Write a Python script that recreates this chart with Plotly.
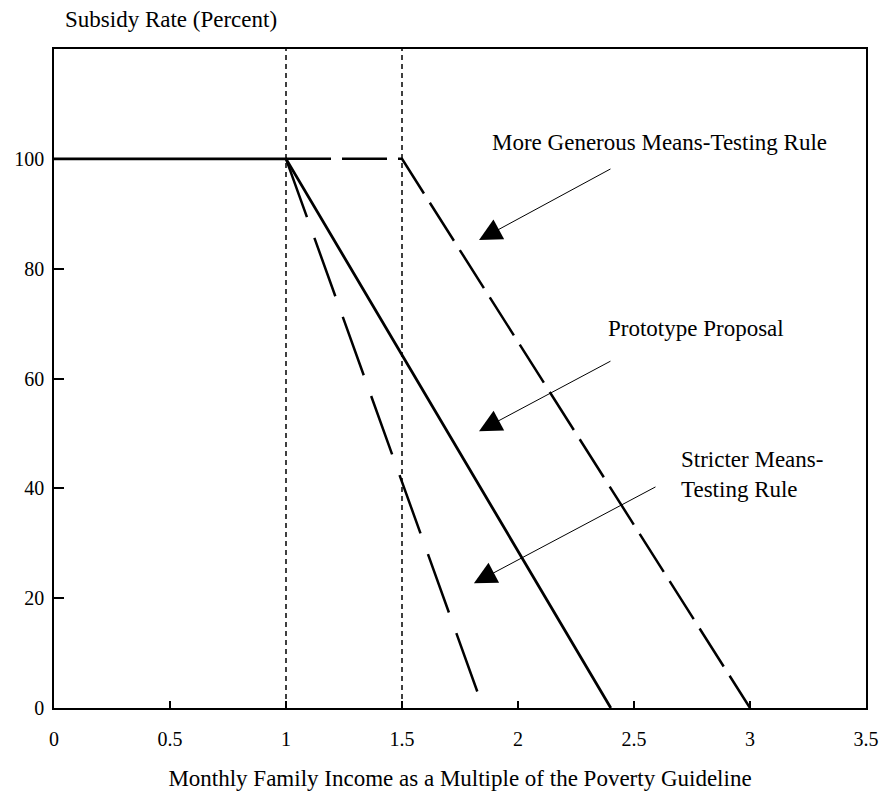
import plotly.graph_objects as go

# Data
proto_x = [0, 1, 2.4]
proto_y = [100, 100, 0]
generous_x = [1, 1.5, 3]
generous_y = [100, 100, 0]
stricter_x = [1, 1.85]
stricter_y = [100, 0]
ref_lines_x = [1, 1.5]
y_range = [0, 120]
x_ticks = [0, 0.5, 1, 1.5, 2, 2.5, 3, 3.5]
y_ticks = [0, 20, 40, 60, 80, 100]

FONT = "Liberation Serif"

fig = go.Figure()

for xv in ref_lines_x:
    fig.add_trace(go.Scatter(x=[xv, xv], y=y_range, mode="lines",
                             line=dict(color="black", width=1.5, dash="5px,4px"),
                             hoverinfo="skip", showlegend=False))

fig.add_trace(go.Scatter(x=generous_x, y=generous_y, mode="lines",
                         line=dict(color="black", width=2.5, dash="45px,11px"),
                         showlegend=False))
fig.add_trace(go.Scatter(x=stricter_x, y=stricter_y, mode="lines",
                         line=dict(color="black", width=2.5, dash="62px,22px"),
                         showlegend=False))
fig.add_trace(go.Scatter(x=proto_x, y=proto_y, mode="lines",
                         line=dict(color="black", width=2.8),
                         showlegend=False))

labels = [
    dict(text="More Generous Means-Testing Rule", tx=1.879, ty=103.0,
         ax=2.405, ay=98.3, hx=1.832, hy=85.2),
    dict(text="Prototype Proposal", tx=2.379, ty=69.1,
         ax=2.405, ay=63.3, hx=1.832, hy=50.4),
    dict(text="Stricter Means-<br>Testing Rule", tx=2.694, ty=42.5,
         ax=2.599, ay=40.4, hx=1.810, hy=22.7),
]
for lb in labels:
    fig.add_annotation(x=lb["tx"], y=lb["ty"], xref="x", yref="y", text=lb["text"],
                       showarrow=False, xanchor="left", yanchor="middle", align="left",
                       font=dict(family=FONT, size=23, color="black"))
    fig.add_annotation(x=lb["hx"], y=lb["hy"], ax=lb["ax"], ay=lb["ay"],
                       xref="x", yref="y", axref="x", ayref="y", text="",
                       showarrow=True, arrowhead=2, arrowsize=4.5, arrowwidth=1,
                       arrowcolor="black")

fig.add_annotation(x=0, y=1, xref="paper", yref="paper", xshift=9, yshift=30,
                   text="Subsidy Rate (Percent)", showarrow=False,
                   xanchor="left", yanchor="middle",
                   font=dict(family=FONT, size=23, color="black"))

fig.update_layout(
    width=881, height=796,
    margin=dict(l=54, r=15, t=49, b=88, autoexpand=False),
    plot_bgcolor="white", paper_bgcolor="white",
    font=dict(family=FONT, size=20, color="black"),
    xaxis=dict(range=[0, 3.5], tickvals=x_ticks, ticktext=[f"{v:g}" for v in x_ticks],
               ticks="inside", ticklen=7, tickwidth=1.5, tickcolor="black",
               ticklabelstandoff=12, automargin=False,
               showline=True, linecolor="black", linewidth=1.5, mirror=True,
               showgrid=False, zeroline=False,
               title=dict(text="Monthly Family Income as a Multiple of the Poverty Guideline",
                          font=dict(family=FONT, size=23), standoff=21)),
    yaxis=dict(range=y_range, tickvals=y_ticks,
               ticks="inside", ticklen=10, tickwidth=1.5, tickcolor="black",
               ticklabelstandoff=4, automargin=False,
               showline=True, linecolor="black", linewidth=1.5, mirror=True,
               showgrid=False, zeroline=False),
)

fig.write_html("out.html", config={"displayModeBar": False},
               post_script="document.body.style.margin='0';document.body.style.overflow='hidden';")
